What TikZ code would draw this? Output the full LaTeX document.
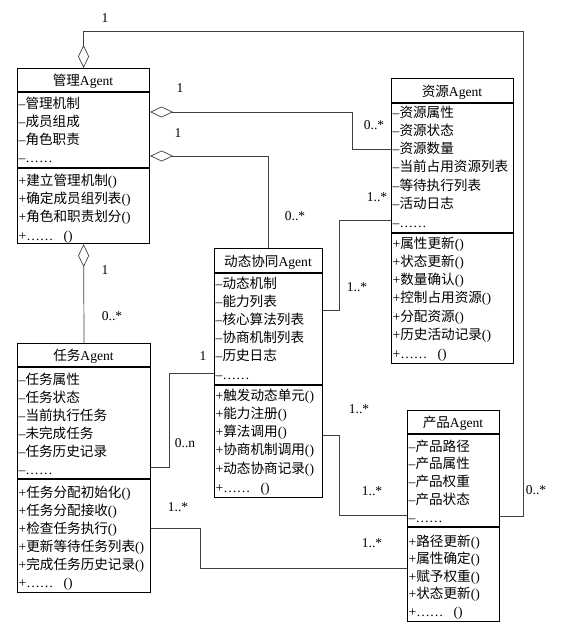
\documentclass[tikz,border=0pt]{standalone}
\usepackage{fontspec}
\setmainfont{Liberation Serif}
\newfontfamily\cjk{Noto Sans CJK SC}
\usetikzlibrary{arrows.meta,calc}
\newcommand\mytitle[1]{{\cjk #1}Agent}
\newcommand\myattr[1]{–{\cjk #1}}
\newcommand\mymeth[1]{+{\cjk #1}()}
\newcommand\mydots{–……}
\newcommand\mymdots{+……\hspace{10pt}()}
\begin{document}
\begin{tikzpicture}[x=1pt,y=-1pt,
  cbox/.style={draw=black, line width=1.1pt, anchor=north west, inner sep=0pt},
  divl/.style={draw=black, line width=1.1pt},
  txt/.style={anchor=base west, inner sep=0pt, font=\fontsize{13.6}{16}\selectfont},
  ttl/.style={anchor=base, inner sep=0pt, font=\fontsize{13.6}{16}\selectfont},
  lbl/.style={inner sep=0pt, font=\fontsize{13.5}{15}\selectfont},
  conn/.style={draw=black!75, line width=0.7pt},
  agg/.style={conn, -{Diamond[open, length=23pt, width=11pt]}}]
\useasboundingbox (0,0) rectangle (572,629);
% ---------- management ----------
\node[cbox, minimum width=132pt, minimum height=175pt] (mgmt) at (17,68) {};
\draw[divl] ($(mgmt.north west)+(0,24)$) -- ($(mgmt.north east)+(0,24)$);
\draw[divl] ($(mgmt.north west)+(0,100)$) -- ($(mgmt.north east)+(0,100)$);
\node[ttl] (mgmt-t) at (83,85) {\mytitle{管理}};
\foreach \t [count=\i from 0] in {管理机制,成员组成,角色职责}
  \node[txt] (mgmt-a\i) at (18.5,108+18*\i) {\myattr{\t}};
\node[txt] (mgmt-ad) at (18.5,162) {\mydots};
\foreach \t [count=\i from 0] in {建立管理机制,确定成员组列表,角色和职责划分}
  \node[txt] (mgmt-m\i) at (18.5,185+18.2*\i) {\mymeth{\t}};
\node[txt] (mgmt-md) at (18.5,240) {\mymdots};
% ---------- resource ----------
\node[cbox, minimum width=122pt, minimum height=285pt] (res) at (391,78) {};
\draw[divl] ($(res.north west)+(0,25)$) -- ($(res.north east)+(0,25)$);
\draw[divl] ($(res.north west)+(0,155)$) -- ($(res.north east)+(0,155)$);
\node[ttl] (res-t) at (452,96) {\mytitle{资源}};
\foreach \t [count=\i from 0] in {资源属性,资源状态,资源数量,当前占用资源列表,等待执行列表,活动日志}
  \node[txt] (res-a\i) at (392.5,117+18.3*\i) {\myattr{\t}};
\node[txt] (res-ad) at (392.5,227) {\mydots};
\foreach \t [count=\i from 0] in {属性更新,状态更新,数量确认,控制占用资源,分配资源,历史活动记录}
  \node[txt] (res-m\i) at (392.5,248+18.3*\i) {\mymeth{\t}};
\node[txt] (res-md) at (392.5,358) {\mymdots};
% ---------- dynamic ----------
\node[cbox, minimum width=108pt, minimum height=249pt] (dyn) at (214,248) {};
\draw[divl] ($(dyn.north west)+(0,25)$) -- ($(dyn.north east)+(0,25)$);
\draw[divl] ($(dyn.north west)+(0,137)$) -- ($(dyn.north east)+(0,137)$);
\node[ttl] (dyn-t) at (268,266) {\mytitle{动态协同}};
\foreach \t [count=\i from 0] in {动态机制,能力列表,核心算法列表,协商机制列表,历史日志}
  \node[txt] (dyn-a\i) at (215.5,288+18.2*\i) {\myattr{\t}};
\node[txt] (dyn-ad) at (215.5,379) {\mydots};
\foreach \t [count=\i from 0] in {触发动态单元,能力注册,算法调用,协商机制调用,动态协商记录}
  \node[txt] (dyn-m\i) at (215.5,400+18.3*\i) {\mymeth{\t}};
\node[txt] (dyn-md) at (215.5,492) {\mymdots};
% ---------- task ----------
\node[cbox, minimum width=133pt, minimum height=249pt] (task) at (17,343) {};
\draw[divl] ($(task.north west)+(0,24)$) -- ($(task.north east)+(0,24)$);
\draw[divl] ($(task.north west)+(0,136)$) -- ($(task.north east)+(0,136)$);
\node[ttl] (task-t) at (83.5,360) {\mytitle{任务}};
\foreach \t [count=\i from 0] in {任务属性,任务状态,当前执行任务,未完成任务,任务历史记录}
  \node[txt] (task-a\i) at (18.5,384+18*\i) {\myattr{\t}};
\node[txt] (task-ad) at (18.5,474) {\mydots};
\foreach \t [count=\i from 0] in {任务分配初始化,任务分配接收,检查任务执行,更新等待任务列表,完成任务历史记录}
  \node[txt] (task-m\i) at (18.5,497+18*\i) {\mymeth{\t}};
\node[txt] (task-md) at (18.5,587) {\mymdots};
% ---------- product ----------
\node[cbox, minimum width=92pt, minimum height=211pt] (prod) at (407,410) {};
\draw[divl] ($(prod.north west)+(0,24)$) -- ($(prod.north east)+(0,24)$);
\draw[divl] ($(prod.north west)+(0,117)$) -- ($(prod.north east)+(0,117)$);
\node[ttl] (prod-t) at (453,427) {\mytitle{产品}};
\foreach \t [count=\i from 0] in {产品路径,产品属性,产品权重,产品状态}
  \node[txt] (prod-a\i) at (408.5,451+17.8*\i) {\myattr{\t}};
\node[txt] (prod-ad) at (408.5,522) {\mydots};
\foreach \t [count=\i from 0] in {路径更新,属性确定,赋予权重,状态更新}
  \node[txt] (prod-m\i) at (408.5,546+17.6*\i) {\mymeth{\t}};
\node[txt] (prod-md) at (408.5,616) {\mymdots};
% ---------- connectors ----------
\coordinate (tr) at (523,31);
\draw[agg] (prod.east) -| (tr) -| (mgmt.north);
\coordinate (k1) at (352,112);
\draw[agg] (res.west |- 0,149) -| (k1) -- (mgmt.east |- k1);
\draw[agg] (dyn.north) |- (mgmt.east |- 0,156);
\draw[agg] (task.north) -- (mgmt.south);
\coordinate (k2) at (339,310);
\draw[conn] (res.west |- 0,220) -| (k2) -- (dyn.east |- k2);
\coordinate (k3) at (169,467);
\draw[conn] (dyn.west |- 0,373) -| (k3) -- (task.east |- k3);
\coordinate (k4) at (339,515);
\draw[conn] (dyn.east |- 0,435) -| (k4) -- (prod.west |- k4);
\coordinate (k5) at (200,568);
\draw[conn] (task.east |- 0,528) -| (k5) -- (prod.west |- k5);
% ---------- labels ----------
\node[lbl] (l1) at (105,18) {1};
\node[lbl] (l2) at (180,88) {1};
\node[lbl] (l3) at (374,125) {0..*};
\node[lbl] (l4) at (178,133) {1};
\node[lbl] (l5) at (295,216) {0..*};
\node[lbl] (l6) at (105,270) {1};
\node[lbl] (l7) at (112,316) {0..*};
\node[lbl] (l8) at (377,197) {1..*};
\node[lbl] (l9) at (357,287) {1..*};
\node[lbl] (l10) at (203,356) {1};
\node[lbl] (l11) at (185,443) {0..n};
\node[lbl] (l12) at (359,409) {1..*};
\node[lbl] (l13) at (372,491) {1..*};
\node[lbl] (l14) at (178,507) {1..*};
\node[lbl] (l15) at (372,543) {1..*};
\node[lbl] (l16) at (536,490) {0..*};
\end{tikzpicture}
\end{document}
